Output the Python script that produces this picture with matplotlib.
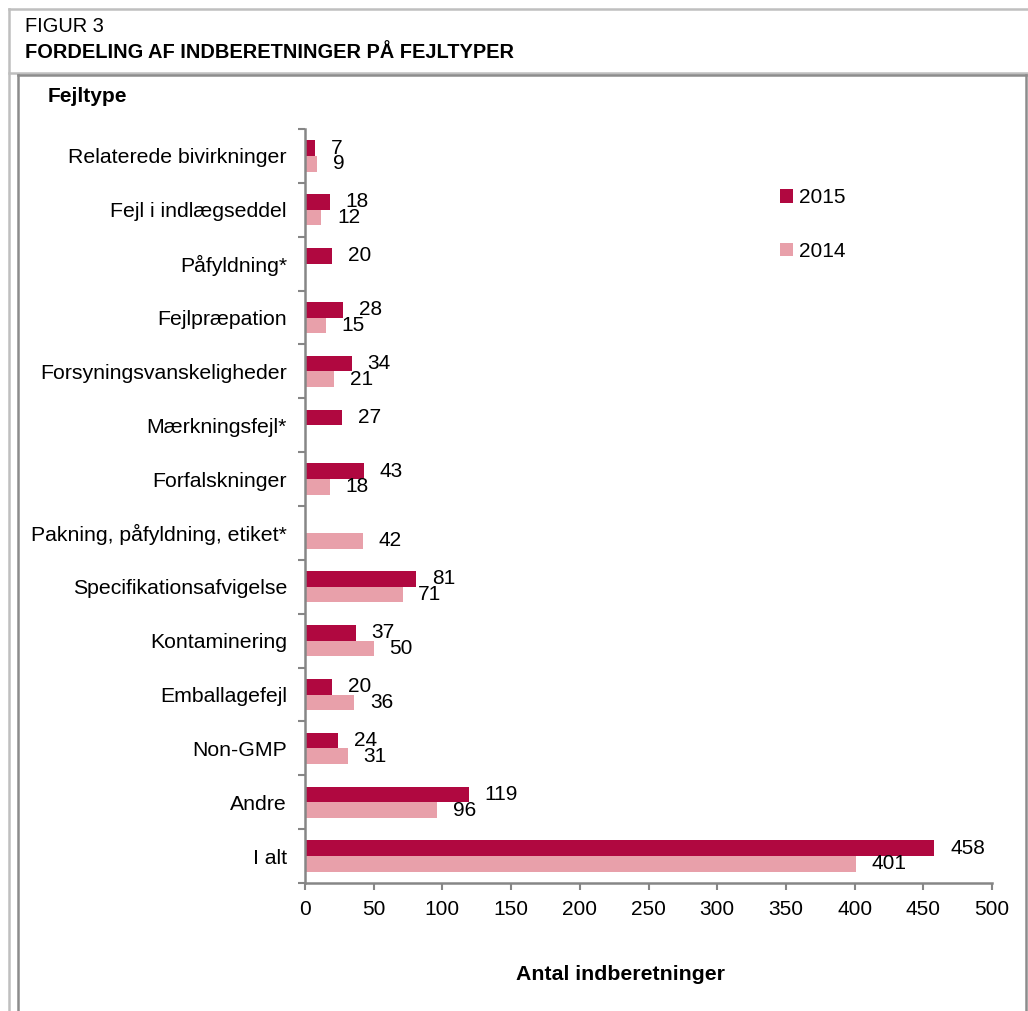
import numpy as np
import matplotlib
matplotlib.use("Agg")
import matplotlib.pyplot as plt
from matplotlib.lines import Line2D

plt.rcParams['font.family'] = ['Liberation Sans', 'DejaVu Sans']

categories = ["Relaterede bivirkninger", "Fejl i indlægseddel", "Påfyldning*",
              "Fejlpræpation", "Forsyningsvanskeligheder", "Mærkningsfejl*",
              "Forfalskninger", "Pakning, påfyldning, etiket*",
              "Specifikationsafvigelse", "Kontaminering", "Emballagefejl",
              "Non-GMP", "Andre", "I alt"]
values_2015 = [7, 18, 20, 28, 34, 27, 43, np.nan, 81, 37, 20, 24, 119, 458]
values_2014 = [9, 12, np.nan, 15, 21, np.nan, 18, 42, 71, 50, 36, 31, 96, 401]
series_labels = ["2015", "2014"]
xticks = [0, 50, 100, 150, 200, 250, 300, 350, 400, 450, 500]

c2015 = "#B00840"
c2014 = "#E8A0AA"
gray = "#868686"

W, H = 1028, 1011
fig = plt.figure(figsize=(W / 100, H / 100), dpi=100)

def fx(px):
    return px / W

def fy(py):
    return 1 - py / H

# frame lines
fig.add_artist(Line2D([fx(9), fx(1028)], [fy(9), fy(9)], color="#BFBFBF", lw=1.8))
fig.add_artist(Line2D([fx(9), fx(9)], [fy(9), fy(1011)], color="#BFBFBF", lw=1.8))
fig.add_artist(Line2D([fx(9), fx(1028)], [fy(73), fy(73)], color="#BFBFBF", lw=1.8))
fig.add_artist(Line2D([fx(18), fx(1026)], [fy(74.5), fy(74.5)], color="#8C8C8C", lw=1.8))
fig.add_artist(Line2D([fx(18), fx(18)], [fy(74.5), fy(1011)], color="#8C8C8C", lw=1.8))
fig.add_artist(Line2D([fx(1026), fx(1026)], [fy(74.5), fy(1011)], color="#8C8C8C", lw=1.8))

fig.text(fx(25), fy(26), "FIGUR 3", fontsize=14.4, va="center", ha="left")
fig.text(fx(25), fy(52), "FORDELING AF INDBERETNINGER PÅ FEJLTYPER", fontsize=14.4,
         fontweight="bold", va="center", ha="left")
fig.text(fx(48), fy(96), "Fejltype", fontsize=15, fontweight="bold", va="center", ha="left")

ax = fig.add_axes([fx(305), fy(883), fx(992) - fx(305), fy(129) - fy(883)])

n = len(categories)
y = np.arange(n)
h = 0.29
ax.barh(y - h / 2, values_2015, height=h, color=c2015, label=series_labels[0])
ax.barh(y + h / 2, values_2014, height=h, color=c2014, label=series_labels[1])

off = 11.5
for i in range(n):
    v = values_2015[i]
    if not np.isnan(v):
        ax.text(v + off, y[i] - h / 2, f"{int(v)}", fontsize=15, va="center", ha="left")
    v = values_2014[i]
    if not np.isnan(v):
        ax.text(v + off, y[i] + h / 2, f"{int(v)}", fontsize=15, va="center", ha="left")

ax.set_ylim(n - 0.5, -0.5)
ax.set_xlim(0, 500)
ax.set_yticks(y)
ax.set_yticklabels(categories, fontsize=15.3)
ax.set_yticks(np.arange(-0.5, n, 1), minor=True)
ax.tick_params(axis="y", which="major", length=0, pad=13)
ax.tick_params(axis="y", which="minor", length=5, width=1.5, color=gray, direction="out")
ax.set_xticks(xticks)
ax.set_xticklabels([str(t) for t in xticks], fontsize=15)
ax.tick_params(axis="x", length=5, width=1.5, color=gray, pad=7)

for s in ["top", "right"]:
    ax.spines[s].set_visible(False)
for s in ["left", "bottom"]:
    ax.spines[s].set_color(gray)
    ax.spines[s].set_linewidth(1.8)

fig.text(fx(621), fy(975), "Antal indberetninger", fontsize=15.3, fontweight="bold",
         ha="center", va="center")

# legend
ax_w = fx(992) - fx(305)
ax_h = fy(129) - fy(883)
leg = ax.legend(loc="upper left",
                bbox_to_anchor=(fx(772 - 305) / ax_w, 1 - (fy(129) - fy(180)) / ax_h),
                frameon=False, fontsize=15, handlelength=0.6, handleheight=0.6,
                handletextpad=0.3, labelspacing=1.65, borderaxespad=0)

fig.savefig("out.png", dpi=100)
